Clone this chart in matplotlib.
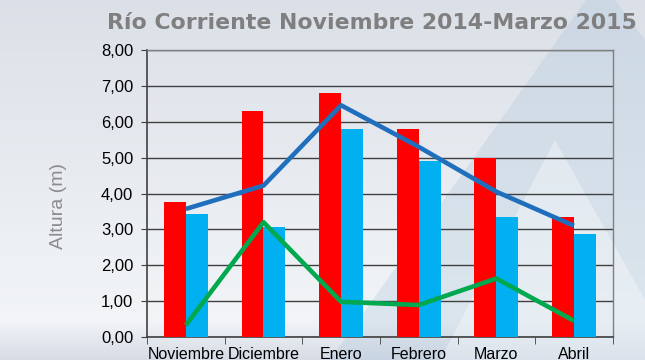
import numpy as np
import matplotlib.pyplot as plt
from matplotlib.patches import Polygon
from matplotlib.ticker import FuncFormatter, FixedLocator

meses = ["Noviembre", "Diciembre", "Enero", "Febrero", "Marzo", "Abril"]
serie_roja = [3.76, 6.30, 6.80, 5.80, 5.00, 3.35]
serie_celeste = [3.43, 3.07, 5.80, 4.90, 3.35, 2.88]
linea_azul = [3.57, 4.22, 6.46, 5.30, 4.05, 3.10]
linea_verde = [0.33, 3.20, 0.98, 0.89, 1.63, 0.45]

fig = plt.figure(figsize=(6.45, 3.6), dpi=100)

# fondo degradado (coordenadas en pixeles, y hacia abajo)
bg = fig.add_axes([0, 0, 1, 1], zorder=-10)
grad = np.linspace(0, 1, 360)
top = np.array([0.86, 0.88, 0.91])
mid = np.array([0.95, 0.96, 0.97])
bot = np.array([0.84, 0.86, 0.90])
img = np.zeros((360, 1, 3))
for i, g in enumerate(grad):
    if g < 0.89:
        t = g / 0.89
        img[i, 0] = top * (1 - t) + mid * t
    else:
        t = (g - 0.89) / 0.11
        img[i, 0] = mid * (1 - t) + bot * t
bg.imshow(img, aspect="auto", extent=[0, 645, 360, 0])
bg.add_patch(Polygon([[600, -20], [330, 360], [645, 360], [645, 40]], closed=True,
                     facecolor="#a9c4da", alpha=0.30, edgecolor="none"))
bg.add_patch(Polygon([[555, 140], [440, 360], [645, 360], [645, 300]], closed=True,
                     facecolor="#ffffff", alpha=0.35, edgecolor="none"))
bg.set_xlim(0, 645)
bg.set_ylim(360, 0)
bg.axis("off")

ax = fig.add_axes([0.228, 0.064, 0.722, 0.797])
ax.patch.set_alpha(0)

x = np.arange(len(meses))
w = 0.283
ax.bar(x - w / 2, serie_roja, w, color="#ff0000", zorder=3)
ax.bar(x + w / 2, serie_celeste, w, color="#00b0f0", zorder=3)
ax.plot(x, linea_azul, color="#1f6fbd", lw=3.3, zorder=4, solid_capstyle="butt")
ax.plot(x, linea_verde, color="#00a94f", lw=3.3, zorder=4, solid_capstyle="butt")

ax.set_xlim(-0.5, len(meses) - 0.5)
ax.set_ylim(0, 8)
ax.set_yticks(np.arange(0, 9, 1))
ax.yaxis.set_major_formatter(FuncFormatter(lambda v, p: f"{v:.2f}".replace(".", ",")))
ax.yaxis.grid(True, color="#404040", lw=1.0, zorder=1)
ax.set_axisbelow(True)

ax.set_xticks(x)
ax.set_xticklabels(meses)
ax.xaxis.set_minor_locator(FixedLocator(np.arange(-0.5, len(meses), 1)))
ax.tick_params(axis="x", which="major", length=0, pad=7, labelsize=11.5)
ax.tick_params(axis="x", which="minor", length=5, direction="out", color="#404040")
ax.tick_params(axis="y", length=4, direction="out", color="#404040", labelsize=12, pad=6)
for lbl in ax.get_xticklabels() + ax.get_yticklabels():
    lbl.set_fontfamily("Liberation Sans")

for s in ["left", "bottom"]:
    ax.spines[s].set_color("#404040")
    ax.spines[s].set_linewidth(1.2)
for s in ["top", "right"]:
    ax.spines[s].set_color("#808080")
    ax.spines[s].set_linewidth(1.0)

ax.set_ylabel("Altura (m)", color="#8c8c8c", fontsize=14, family="Liberation Sans")
ax.yaxis.set_label_coords(-0.172, 0.456)
fig.text(0.576, 0.935, "Río Corriente Noviembre 2014-Marzo 2015", ha="center", va="center",
         fontsize=15.8, fontweight="bold", color="#7f7f7f", family="DejaVu Sans")

fig.savefig("out.png", dpi=100)
